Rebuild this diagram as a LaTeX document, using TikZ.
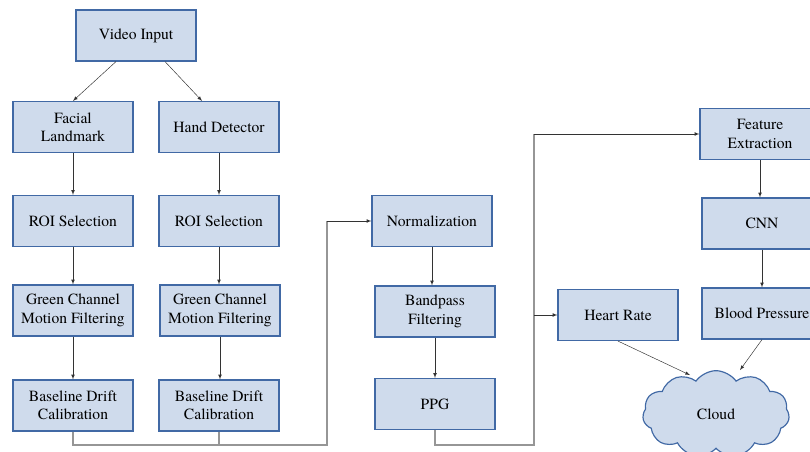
\documentclass[tikz,border=0pt]{standalone}
\usepackage{fontspec}
\setmainfont{texgyretermes}[Extension=.otf, UprightFont=*-regular, BoldFont=*-bold]
\usetikzlibrary{shapes.symbols}
\definecolor{boxblue}{RGB}{207,219,236}
\definecolor{edgeblue}{RGB}{65,105,165}
\definecolor{linegray}{RGB}{150,150,150}

\begin{document}
\begin{tikzpicture}[x=0.03cm,y=-0.03cm,
  block/.style={draw=edgeblue, fill=boxblue, line width=1pt, minimum width=3.6cm, minimum height=1.53cm, align=center, font=\fontsize{13.3}{15.6}\selectfont},
  arr/.style={->,>=latex, black!80, thin},
  bus/.style={linegray, line width=1pt}]
\clip (0,0) rectangle (810,452);
% left branch
\node[block] (video) at (136,35.5) {Video Input};
\node[block] (face) at (73,127) {Facial\\Landmark};
\node[block] (hand) at (219,127) {Hand Detector};
\node[block] (roiF) at (73,221) {ROI Selection};
\node[block] (roiH) at (219,221) {ROI Selection};
\node[block] (greenF) at (73,310.5) {Green Channel\\Motion Filtering};
\node[block] (greenH) at (220,310.5) {Green Channel\\Motion Filtering};
\node[block] (driftF) at (73,405.5) {Baseline Drift\\Calibration};
\node[block] (driftH) at (219,405.5) {Baseline Drift\\Calibration};
% middle
\node[block] (norm) at (432,221) {Normalization};
\node[block] (band) at (435,311.5) {Bandpass\\Filtering};
\node[block] (ppg) at (435,404) {PPG};
% right
\node[block] (feat) at (760,134) {Feature\\Extraction};
\node[block] (cnn) at (762,223.5) {CNN};
\node[block] (bp) at (762,313.5) {Blood Pressure};
\node[block] (hr) at (618,315) {Heart Rate};
\node[cloud, cloud puffs=11, cloud puff arc=110, aspect=1.7, draw=edgeblue, fill=boxblue, line width=1pt,
  minimum width=4.4cm, minimum height=2.6cm, font=\fontsize{13.3}{15.6}\selectfont] (cloud) at (716,414) {Cloud};

\draw[arr] ([xshift=-0.6cm]video.south) -- (face.north);
\draw[arr] ([xshift=0.87cm]video.south) -- ([xshift=-0.51cm]hand.north);
\draw[arr] (face) -- (roiF);
\draw[arr] (hand) -- (roiH);
\draw[arr] (roiF) -- (greenF);
\draw[arr] (roiH) -- (roiH |- greenH.north);
\draw[arr] (greenF) -- (driftF);
\draw[arr] (greenH) -- (greenH |- driftH.north);
\draw[arr] (norm) -- (norm |- band.north);
\draw[arr] (band) -- (ppg);
\draw[arr] (feat) -- (feat |- cnn.north);
\draw[arr] (cnn) -- (bp);

% collecting lines
\coordinate (join) at (327,445);
\coordinate (split) at (534,445);
\draw[bus] (driftF.south) |- (join) -- (join |- norm.west);
\draw[bus] (driftH.south) -- (driftH.south |- join);
\draw[arr] (join |- norm.west) -- (norm.west);
\draw[bus] (ppg.south) |- (split) -- (split |- feat.west);
\draw[arr] (split |- feat.west) -- (feat.west);
\draw[arr] (split |- hr.west) -- (hr.west);

\draw[arr] (hr.south) -- ([xshift=-0.78cm,yshift=-0.15cm]cloud.north);
\draw[arr] (bp.south) -- ([xshift=0.72cm]cloud.north);
\end{tikzpicture}
\end{document}
